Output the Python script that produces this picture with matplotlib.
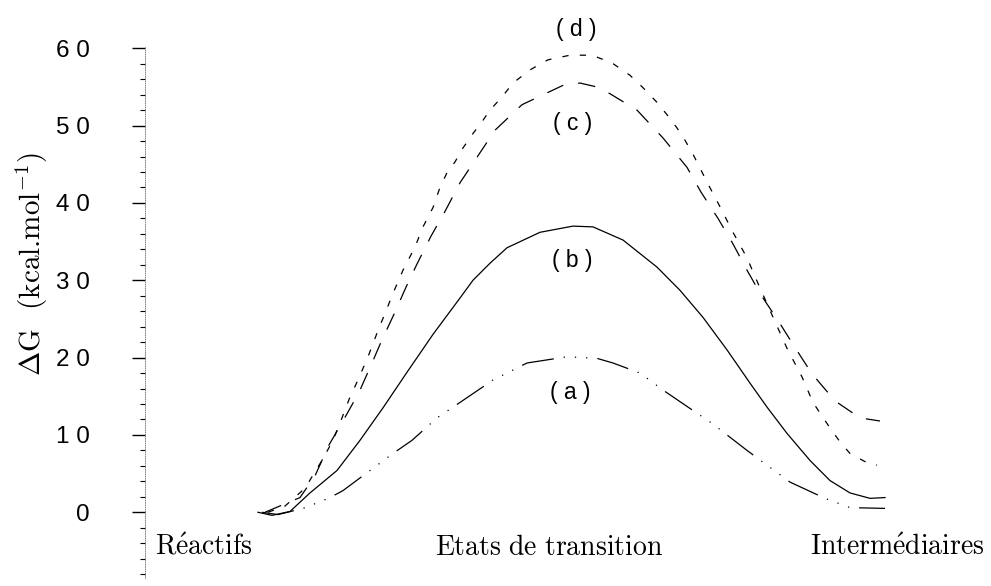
import matplotlib
matplotlib.use("Agg")
import matplotlib.pyplot as plt
from matplotlib.ticker import MultipleLocator, FixedLocator, FixedFormatter

plt.rcParams["mathtext.fontset"] = "cm"

# reaction coordinate (arbitrary units) and free energy (kcal/mol)
x_a = [1.17, 1.33, 1.58, 1.72, 1.85, 1.98, 2.25, 2.48, 2.67, 2.92, 3.15, 3.48,
       3.82, 4.22, 4.52, 4.68, 4.95, 5.18, 5.43, 5.67, 6.02, 6.25, 6.45, 6.80,
       7.05, 7.40]
g_a = [0.0, -0.3, 0.5, 1.2, 1.9, 2.8, 5.4, 7.6, 9.3, 12.2, 14.2, 17.1,
       19.3, 20.1, 19.9, 19.3, 18.0, 15.8, 13.6, 11.5, 8.0, 5.8, 3.9, 1.8,
       0.6, 0.5]

x_b = [1.13, 1.27, 1.45, 1.65, 1.92, 2.15, 2.38, 2.62, 2.88, 3.15, 3.28, 3.45,
       3.62, 3.95, 4.28, 4.48, 4.78, 5.12, 5.35, 5.58, 5.82, 6.05, 6.22, 6.42,
       6.65, 6.85, 7.05, 7.25, 7.40]
g_b = [0.0, -0.4, 0.1, 2.5, 5.4, 9.3, 13.5, 18.1, 23.0, 27.7, 30.0, 32.2,
       34.2, 36.2, 37.0, 36.9, 35.2, 31.7, 28.7, 25.2, 21.0, 16.7, 13.6, 10.2,
       6.7, 4.1, 2.5, 1.8, 1.9]

x_c = [1.20, 1.55, 1.70, 1.84, 2.01, 2.14, 2.26, 2.37, 2.49, 2.61, 2.72, 2.86,
       3.00, 3.15, 3.32, 3.50, 3.77, 4.18, 4.35, 4.55, 4.92, 5.18, 5.42, 5.56,
       5.73, 5.88, 6.02, 6.17, 6.34, 6.50, 6.67, 6.90, 7.15, 7.35]
g_c = [0.0, 1.9, 4.7, 8.7, 12.5, 15.5, 19.0, 22.3, 25.6, 29.1, 32.1, 35.7,
       38.9, 42.6, 45.9, 49.4, 52.7, 55.2, 55.5, 54.9, 52.0, 48.4, 44.6, 41.4,
       38.0, 34.7, 31.3, 27.9, 24.6, 21.3, 17.9, 14.4, 12.2, 11.8]

x_d = [1.23, 1.40, 1.60, 1.77, 1.88, 1.97, 2.05, 2.13, 2.23, 2.33, 2.40, 2.48,
       2.58, 2.70, 2.78, 2.88, 2.95, 3.02, 3.10, 3.18, 3.27, 3.37, 3.45, 3.57,
       3.68, 3.85, 4.03, 4.25, 4.47, 4.67, 4.85, 4.98, 5.12, 5.22, 5.32, 5.40,
       5.48, 5.62, 5.75, 5.88, 6.02, 6.13, 6.25, 6.42, 6.57, 6.68, 6.85, 6.95,
       7.05, 7.25, 7.32]
g_d = [0.0, 0.8, 3.1, 6.7, 9.3, 12.2, 14.9, 17.1, 20.1, 23.5, 25.7, 28.3,
       31.3, 34.3, 36.9, 39.4, 42.0, 43.9, 45.3, 47.1, 48.8, 50.5, 52.0, 53.7,
       55.5, 57.2, 58.5, 59.1, 59.1, 58.1, 56.5, 54.9, 53.0, 51.4, 49.7, 48.1,
       46.3, 42.7, 39.5, 36.2, 32.9, 29.6, 26.1, 21.2, 17.5, 14.2, 10.9, 9.1,
       7.6, 6.2, 6.1]

curve_names = ["( a )", "( b )", "( c )", "( d )"]
name_x = [4.25, 4.27, 4.28, 4.31]
name_y = [15.5, 32.6, 50.3, 62.4]

stage_names = [r"$\mathrm{R\acute{e}actifs}$",
               r"$\mathrm{Etats\ de\ transition}$",
               r"$\mathrm{Interm\acute{e}diaires}$"]
stage_x = [0.59, 4.04, 7.52]
stage_y = -5.5

yticks = [0, 10, 20, 30, 40, 50, 60]
ytick_labels = ["0", "1 0", "2 0", "3 0", "4 0", "5 0", "6 0"]

fig = plt.figure(figsize=(9.91, 5.86), dpi=100)
ax = fig.add_axes([0.1463, 0.01365, 0.8537, 0.908])

ax.plot(x_a, g_a, color="black", lw=0.9, ls=(0, (26, 8, 1, 8, 1, 8, 1, 8)))
ax.plot(x_b, g_b, color="black", lw=0.9, ls="-")
ax.plot(x_c, g_c, color="black", lw=0.9, ls=(0, (14, 12)))
ax.plot(x_d, g_d, color="black", lw=0.9, ls=(0, (5, 9)))

for name, nx, ny in zip(curve_names, name_x, name_y):
    ax.text(nx, ny, name, ha="center", va="center", fontsize=16.5,
            family="Liberation Sans", clip_on=False)

for name, sx in zip(stage_names, stage_x):
    ax.text(sx, stage_y, name, ha="center", va="baseline", fontsize=20)

ax.set_xlim(0, 8.46)
ax.set_ylim(-8.5, 60.3)

for s in ("top", "right", "bottom"):
    ax.spines[s].set_visible(False)
ax.spines["left"].set_linewidth(0.6)
ax.spines["left"].set_linestyle(":")
ax.spines["left"].set_color("0.45")

ax.set_xticks([])
ax.yaxis.set_major_locator(FixedLocator(yticks))
ax.yaxis.set_major_formatter(FixedFormatter(ytick_labels))
ax.yaxis.set_minor_locator(MultipleLocator(2))
ax.tick_params(axis="y", which="major", direction="out", length=9.5, width=1.0,
               pad=30, labelsize=17.5)
ax.tick_params(axis="y", which="minor", direction="out", length=3.6, width=0.8)
for lab in ax.get_yticklabels():
    lab.set_family("Liberation Sans")

fig.text(32 / 991, 1 - 264 / 586, r"$\Delta$G  (kcal.mol$^{-1}$)", family="cmr10",
         rotation=90, ha="center", va="center", fontsize=21)

fig.savefig("out.png", dpi=100)
